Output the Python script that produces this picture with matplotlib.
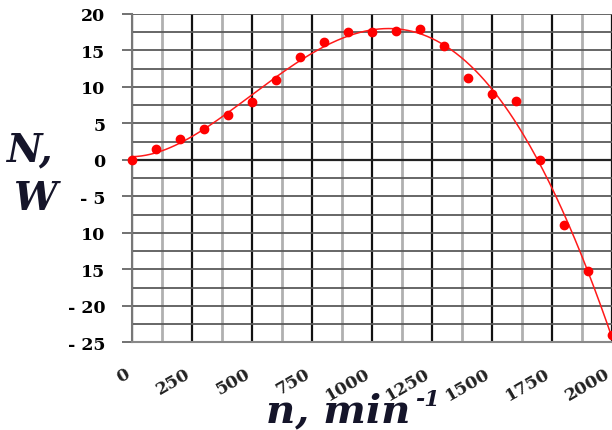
import numpy as np
import matplotlib
matplotlib.use("Agg")
import matplotlib.pyplot as plt
import matplotlib.transforms as mtransforms
from matplotlib.ticker import MultipleLocator, FixedLocator, FixedFormatter

# ---- data ----
n_vals = [0, 100, 200, 300, 400, 500, 600, 700, 800, 900, 1000,
          1100, 1200, 1300, 1400, 1500, 1600, 1700, 1800, 1900, 2000]
N_vals = [0.0, 1.5, 2.8, 4.2, 6.1, 8.0, 10.9, 14.1, 16.1, 17.6, 17.6,
          17.7, 18.0, 15.6, 11.2, 9.0, 8.1, 0.0, -8.9, -15.2, -24.0]
x_ticks = [0, 250, 500, 750, 1000, 1250, 1500, 1750, 2000]
x_ticklabels = ["0", "250", "500", "750", "1000", "1250", "1500", "1750", "2000"]
y_ticks = [20, 15, 10, 5, 0, -5, -10, -15, -20, -25]
y_ticklabels = ["20", "15", "10", "5", "0", "- 5", "10", "15", "- 20", "- 25"]
trend_degree = 4

fig = plt.figure(figsize=(6.12, 4.31), dpi=100)
ax = fig.add_axes([0.2152, 0.2035, 0.7843, 0.7617])

ax.set_xlim(0, 2000)
ax.set_ylim(-25, 20)

# grid
ax.xaxis.set_major_locator(FixedLocator(x_ticks))
ax.xaxis.set_minor_locator(MultipleLocator(125))
ax.yaxis.set_major_locator(FixedLocator(y_ticks))
ax.yaxis.set_minor_locator(MultipleLocator(2.5))
ax.grid(which='major', axis='x', color='#111111', lw=1.6, zorder=1)
ax.grid(which='minor', axis='x', color='#b0b0b0', lw=2.0, zorder=1)
ax.grid(which='both', axis='y', color='#5a5a5a', lw=1.3, zorder=1)
ax.axhline(0, color='#222222', lw=1.6, zorder=1.5)
ax.set_axisbelow(True)

for s in ['top', 'right']:
    ax.spines[s].set_visible(False)
ax.spines['left'].set_color('#777777')
ax.spines['left'].set_linewidth(1.5)
ax.spines['bottom'].set_color('#888888')
ax.spines['bottom'].set_linewidth(1.5)

# trendline (polynomial fit of the data)
coef = np.polyfit(n_vals, N_vals, trend_degree)
xs = np.linspace(min(n_vals), max(n_vals), 300)
ax.plot(xs, np.polyval(coef, xs), color='#ff1a1a', lw=1.1, zorder=3, clip_on=False)
ax.plot(n_vals, N_vals, 'o', color='#ff0000', ms=6, zorder=4, clip_on=False)

# ticks
ax.yaxis.set_major_formatter(FixedFormatter(y_ticklabels))
ax.tick_params(axis='y', which='major', length=7, width=1.3, color='#666666',
               pad=12, labelsize=12.5)
ax.tick_params(axis='y', which='minor', length=0)
ax.tick_params(axis='x', which='both', length=0, pad=16)
for lab in ax.get_yticklabels():
    lab.set_fontfamily('DejaVu Serif')
    lab.set_fontweight('bold')

ax.set_xticklabels(x_ticklabels, rotation=30, ha='right', va='top',
                   rotation_mode='anchor', fontsize=12.5, fontfamily='DejaVu Serif',
                   fontweight='bold', color='#222222')
shift = mtransforms.ScaledTranslation(-7 / 100, 0, fig.dpi_scale_trans)
for lab in ax.get_xticklabels():
    lab.set_transform(lab.get_transform() + shift)

# axis titles
tcol = '#15152a'
fig.text(0.010, 0.652, "N,", fontsize=28, fontfamily='DejaVu Serif',
         fontweight='bold', fontstyle='italic', color=tcol, ha='left', va='center')
fig.text(0.022, 0.538, "W", fontsize=28, fontfamily='DejaVu Serif',
         fontweight='bold', fontstyle='italic', color=tcol, ha='left', va='center')
xl = fig.text(0.434, 1 - 422 / 431, "n, min", fontsize=29, fontfamily='DejaVu Serif',
              fontweight='bold', fontstyle='italic', color=tcol, ha='left', va='baseline')
ax.annotate("-1", xy=(1.0, 0.5), xycoords=xl, xytext=(4, 0), textcoords='offset points',
            fontsize=16, fontfamily='DejaVu Serif', fontweight='bold', fontstyle='italic',
            color=tcol, ha='left', va='bottom', annotation_clip=False)

fig.savefig("out.png", dpi=100)
